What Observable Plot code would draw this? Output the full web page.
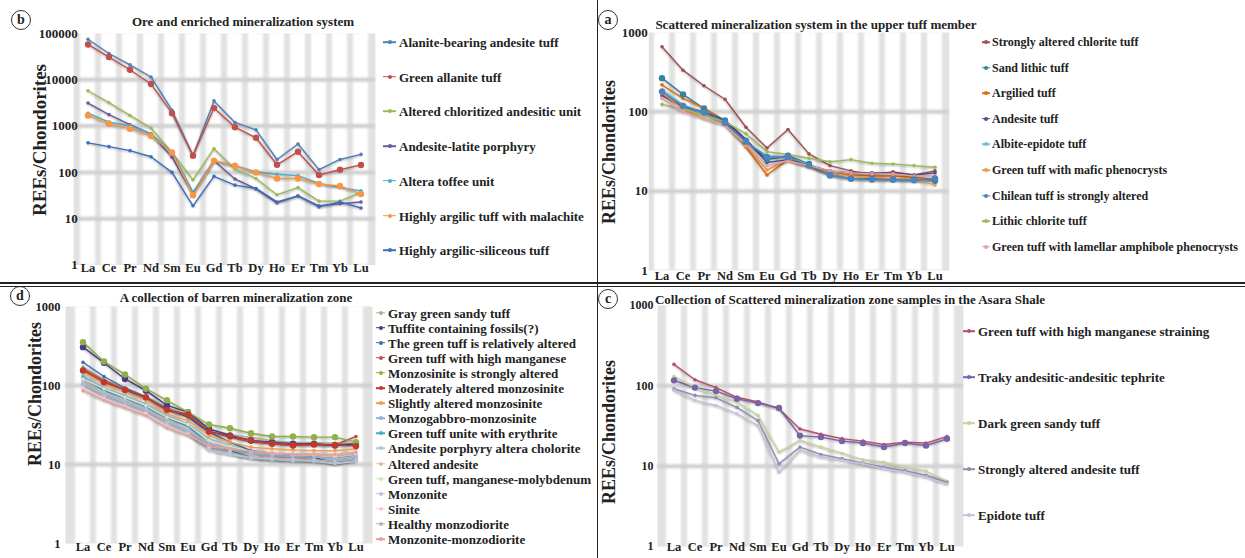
<!DOCTYPE html>
<html><head><meta charset="utf-8">
<script src="https://cdn.jsdelivr.net/npm/d3@7"></script>
<script src="https://cdn.jsdelivr.net/npm/@observablehq/plot@0.6"></script>
<style>
body{margin:0;background:#fff;}
#root{position:relative;width:1245px;height:558px;overflow:hidden;font-family:"Liberation Serif","Times New Roman",serif;font-weight:bold;color:#222;background:#fff;}
.title{position:absolute;font-size:13px;white-space:nowrap;transform:translate(-50%,-50%);}
.ylab{position:absolute;font-size:18px;white-space:nowrap;transform:translate(-50%,-50%) rotate(-90deg);}
.circ{position:absolute;width:18px;height:18px;border:1.4px solid #333;border-radius:50%;font-size:14px;text-align:center;line-height:17px;transform:translate(-50%,-50%);background:#fff;}
.legt{position:absolute;font-size:13px;white-space:nowrap;transform:translateY(-50%);line-height:1;}
.sw{position:absolute;height:1.6px;transform:translateY(-50%);}
.swd{position:absolute;width:4px;height:4px;border-radius:50%;transform:translate(-50%,-50%);}
.hline{position:absolute;left:0;width:1245px;}
.vline{position:absolute;top:0;height:558px;width:1.6px;background:#222;left:596.5px;}
svg g[aria-label="line"] path{filter:drop-shadow(0.8px 1.4px 1px rgba(0,0,0,0.32));}
svg g[aria-label="bar"], svg g[aria-label="rule"]{filter:blur(1.1px);}
</style>
</head><body><div id="root"></div>
<script>
// ---------- DATA ----------
const elements = ["La","Ce","Pr","Nd","Sm","Eu","Gd","Tb","Dy","Ho","Er","Tm","Yb","Lu"];
const ticksB = [1, 10, 100, 1000, 10000, 100000];
const ticks3 = [1, 10, 100, 1000];

// Panel b
const titleB = "Ore and enriched mineralization system";
const namesB = ["Alanite-bearing andesite tuff","Green allanite tuff","Altered chloritized andesitic unit","Andesite-latite porphyry","Altera toffee unit","Highly argilic tuff with malachite","Highly argilic-siliceous tuff"];
const colorsB = ["#4f81bd","#c0504d","#9bbb59","#6a5a9e","#4bacc6","#f79646","#3a6fc0"];
const bigB = [1, 5];
const valuesB = [
  [75000,37000,21000,11500,2200,230,3500,1200,830,190,410,115,190,245],
  [58000,31000,16500,8100,1900,230,2450,950,560,146,280,88,114,145],
  [5800,3200,1700,910,270,69,325,118,74,33,47,24,24,37],
  [3150,1770,1070,680,213,34,178,72,44,22,31,19,21,23],
  [1900,1220,1030,680,270,37,178,140,103,91,85,58,47,40],
  [1700,1120,875,610,270,32,178,140,100,74,74,56,51,34],
  [435,360,295,218,100,19,82,53,45,23,31,18,23,17]
];

// Panel a
const titleA = "Scattered mineralization system in the upper tuff member";
const namesA = ["Strongly altered chlorite tuff","Sand lithic tuff","Argilied tuff","Andesite tuff","Albite-epidote tuff","Green tuff with mafic phenocrysts","Chilean tuff is strongly altered","Lithic chlorite tuff","Green tuff with lamellar amphibole phenocrysts"];
const colorsA = ["#a0504f","#31859c","#e46c0a","#4f4f8f","#6cc4dc","#f79646","#4f81bd","#9bbb59","#e6a0a0"];
const bigA = [1, 6];
const valuesA = [
  [660,335,213,144,64,35,60,29.5,21,18,16.3,17.5,16,18],
  [266,166,110,78,43,25,28,22,16,14.4,14.4,14,14,13.5],
  [219,148,112,75,36,16,25,21,17,16,15.5,15.5,15,14],
  [160,116,100,78,45,23,25,21,18,17,17,17,16,17],
  [189,124,95,73,41,28,27,21.6,16,14.4,13.8,13.8,13.5,14],
  [171,110,82,68,37,18.5,25,20,17,15.5,15,14.4,14,12],
  [180,119,98,73,42,27,27,21,15.8,14.4,14,14,13.7,14.5],
  [124,108,90,75,53,31.5,29,26,23.5,25,22.5,22,21,20],
  [148,100,82,68,39,21,24,21,18,17,16.5,16.5,15.5,15.5]
];

// Panel d
const titleD = "A collection of barren mineralization zone";
const namesD = ["Gray green sandy tuff","Tuffite containing fossils(?)","The green tuff is relatively altered","Green tuff with high manganese","Monzosinite is strongly altered","Moderately altered monzosinite","Slightly altered monzosinite","Monzogabbro-monzosinite","Green tuff unite with erythrite","Andesite porphyry altera cholorite","Altered andesite","Green tuff, manganese-molybdenum","Monzonite","Sinite","Healthy monzodiorite","Monzonite-monzodiorite"];
const colorsD = ["#a5b592","#4d3b8a","#3c6fb6","#c0504d","#8fb04a","#c0392b","#f0a04b","#95b3d7","#4bacc6","#b7c5d9","#e6b9b8","#d7e4bd","#b3c6e0","#f2d0d0","#a6b8cc","#e6a0a0"];
const bigD = [1, 4, 5];
const valuesD = [
  [171,118,93,73,53,42,28,24,22,20,19,19,18.6,18.3],
  [306,194,121,86,56,46,28.3,23.3,20.1,19.2,18.3,18.3,17.4,18.3],
  [197,130,93,71,50.7,39.7,25.7,19.2,15,13.9,13,12.4,10.2,11.8],
  [162,116,88,70,48.3,41.7,26.4,22.2,19.2,18.3,17.9,17.9,17.7,22.6],
  [354,201,138,91,65,46,32.1,28.8,24.9,22.6,22.6,22.2,22.2,19.2],
  [155,110,88,71,49.2,43,26.2,22.6,20.5,18.3,17.4,17.9,17.7,17.1],
  [147,105,82,65,43.8,36,23.3,19.2,16.6,15.8,15.3,15,15,15.8],
  [134,93,75,58.6,41.7,32.7,21.1,17.4,14.3,13,12.6,12.4,12.1,13],
  [127,86,70,54.2,39,30.3,18.3,15,12.4,11.5,11.2,11,10.7,11.5],
  [116,82,65,50.7,36,28.3,16.6,14.3,11.8,11.5,11.2,11.5,11,11.8],
  [107,75,61.5,48.3,34.3,26.4,15.8,13.6,12.4,11.8,11.6,11.2,10.4,11.2],
  [121,91,71,55.8,39.7,32.1,20.1,16.9,14.7,13.9,13.6,13.4,13,13.9],
  [100,71,57.5,46,32.1,24.9,15,13.4,12.1,11.6,11.2,11,10.2,11],
  [93,68,54.2,43.8,30.3,24,16.9,15.3,13.9,13.4,13,13,12.4,13.4],
  [105,78,61.5,49.2,36,26.9,18.6,15.8,13.6,13,12.6,12.4,11.8,12.6],
  [86,65,52.2,41.7,29.1,23.3,17.4,15.8,14.7,13.9,13.6,13.6,13.4,14.3]
];

// Panel c
const titleC = "Collection of Scattered mineralization zone samples in the Asara Shale";
const namesC = ["Green tuff with high manganese straining","Traky andesitic-andesitic tephrite","Dark green sandy tuff","Strongly altered andesite tuff","Epidote tuff"];
const colorsC = ["#b9506a","#7a62a8","#c3d69b","#8e8eb0","#ccc0da"];
const bigC = [1];
const valuesC = [
  [185,119,95,72,63,52,29,25,22,20.5,18.6,19.9,19.4,23.4],
  [117,95,86,69,61,53,24,23,20.5,19.4,17.3,19.4,18.1,21.9],
  [131,95,76,63,43,15,21,17.3,14.5,12,11.2,9.7,8.7,6.5],
  [92,76,71,54,37,10.7,17.3,14,12.4,10.9,9.7,8.8,7.7,6.3],
  [88,66,57,45,32,8.4,15.7,13,11.8,10.7,9.3,8.4,7.3,6]
];

// ---------- DRAW ----------
const root = document.getElementById("root");
function div(cls, text, css) {
  const d = document.createElement("div");
  d.className = cls;
  if (text != null) d.textContent = text;
  Object.assign(d.style, css);
  root.appendChild(d);
  return d;
}

function panel(p) {
  const rows = p.names.flatMap((n, i) => elements.map((e, j) => ({sample: n, element: e, value: p.values[i][j], big: p.big.includes(i)})));
  const yMax = p.ticks[p.ticks.length - 1];
  const svg = Plot.plot({
    width: p.w, height: p.h,
    marginLeft: p.ml, marginRight: p.mr, marginTop: p.mt, marginBottom: p.mb,
    style: {fontFamily: '"Liberation Serif", "Times New Roman", serif', fontWeight: "bold", color: "#222", background: "transparent", overflow: "visible"},
    x: {type: "band", domain: elements, padding: 0},
    y: {type: "log", domain: [1, yMax]},
    color: {domain: p.names, range: p.colors},
    marks: [
      Plot.frame({fill: "#e2e2e2", stroke: "none"}),
      Plot.barY(elements, {x: d => d, y1: 1, y2: yMax, fill: "white", insetLeft: 3, insetRight: 3}),
      Plot.ruleY(p.ticks.slice(1, -1), {stroke: "#cfcfcf", strokeWidth: 4}),
      Plot.line(rows, {x: "element", y: "value", z: "sample", stroke: "sample", strokeWidth: 1.4}),
      Plot.dot(rows.filter(d => !d.big), {x: "element", y: "value", fill: "sample", r: 1.8}),
      Plot.dot(rows.filter(d => d.big), {x: "element", y: "value", fill: "sample", r: 3.2}),
      Plot.axisY(p.ticks, {tickSize: 0, tickPadding: p.ytp, dx: p.ydx, tickFormat: d => String(d), fontSize: p.yfs, label: null}),
      Plot.axisX({tickSize: 0, tickPadding: 0, dy: p.xdy, fontSize: 12.5, label: null})
    ]
  });
  svg.style.position = "absolute";
  svg.style.left = p.left + "px";
  svg.style.top = p.top + "px";
  root.appendChild(svg);

  div("title", p.title, {left: p.tx + "px", top: p.ty + "px"});
  div("ylab", "REEs/Chondorites", {left: p.lx + "px", top: p.ly + "px", fontSize: p.lfs + "px"});
  div("circ", p.letter, {left: p.cx + "px", top: p.cy + "px"});
  p.names.forEach((n, i) => {
    const y = p.legY + i * p.legStep;
    div("sw", null, {left: p.swX + "px", top: y + "px", width: p.swW + "px", background: p.colors[i]});
    div("swd", null, {left: (p.swX + p.swW / 2) + "px", top: y + "px", background: p.colors[i]});
    div("legt", n, {left: p.textX + "px", top: y + "px", fontSize: p.legFs + "px"});
  });
}

panel({names: namesB, colors: colorsB, values: valuesB, big: bigB, ticks: ticksB, title: titleB, letter: "b",
  left: 0, top: 0, w: 380, h: 285, ml: 73.2, mr: 5.2, mt: 33, mb: 20.5, ytp: 0, ydx: 4, yfs: 13, xdy: -2,
  tx: 243, ty: 22, lx: 40, ly: 140, lfs: 19, cx: 21, cy: 20,
  legY: 42, legStep: 34.7, swX: 383, swW: 13, textX: 399, legFs: 13});

panel({names: namesA, colors: colorsA, values: valuesA, big: bigA, ticks: ticks3, title: titleA, letter: "a",
  left: 600, top: 0, w: 355, h: 285, ml: 48.3, mr: 6.3, mt: 32, mb: 15, ytp: 1, ydx: 0, yfs: 13, xdy: 1,
  tx: 816, ty: 25, lx: 609, ly: 152, lfs: 18, cx: 608, cy: 20,
  legY: 42, legStep: 25.6, swX: 982, swW: 8, textX: 992, legFs: 12});

panel({names: namesD, colors: colorsD, values: valuesD, big: bigD, ticks: ticks3, title: titleD, letter: "d",
  left: 0, top: 285, w: 380, h: 273, ml: 65, mr: 8, mt: 21, mb: 15, ytp: 5, ydx: 0, yfs: 12.5, xdy: -1,
  tx: 236, ty: 298, lx: 35, ly: 394, lfs: 18, cx: 20, cy: 296,
  legY: 312.5, legStep: 15.1, swX: 376, swW: 9, textX: 388, legFs: 13});

panel({names: namesC, colors: colorsC, values: valuesC, big: bigC, ticks: ticks3, title: titleC, letter: "c",
  left: 600, top: 285, w: 370, h: 273, ml: 57.1, mr: 7.1, mt: 20, mb: 12, ytp: 4, ydx: 0, yfs: 12, xdy: -4,
  tx: 850, ty: 300, lx: 609, ly: 432, lfs: 18, cx: 608, cy: 299,
  legY: 331, legStep: 46.1, swX: 963, swW: 12, textX: 978, legFs: 13});

// dividers
div("vline", null, {});
div("hline", null, {top: "282px", height: "2px", background: "#222"});
div("hline", null, {top: "285.5px", height: "1px", background: "#222"});
</script>
</body></html>
